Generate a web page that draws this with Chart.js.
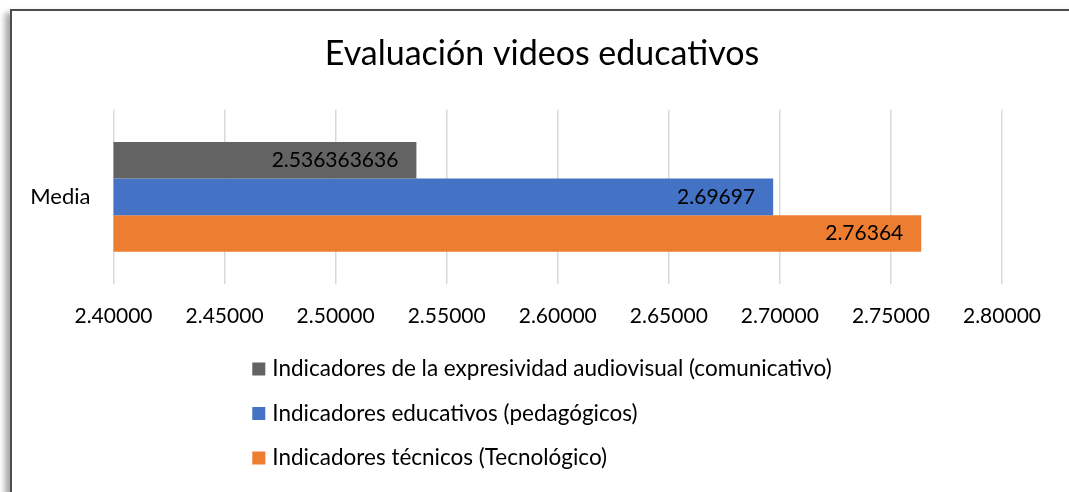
<!DOCTYPE html>
<html>
<head>
<meta charset="utf-8">
<title>Evaluación videos educativos</title>
<script src="https://cdn.jsdelivr.net/npm/chart.js@4"></script>
<style>
  html, body { margin: 0; padding: 0; background: #fff; width: 1069px; height: 492px; overflow: hidden; }
  #frame {
    position: absolute; left: 10px; top: 9px; width: 1070px; height: 500px;
    border: 2px solid #4d4d4d; background: #fff;
    box-shadow: -5px 4px 6px rgba(0, 0, 0, 0.35);
  }
  #wrap { position: absolute; left: 0; top: 0; width: 1060px; height: 482px; }
</style>
</head>
<body>
<div id="frame"><div id="wrap"><canvas id="chart"></canvas></div></div>
<script>
const CATEGORIES = ["Media"];
const SERIES_NAMES = [
  "Indicadores de la expresividad audiovisual (comunicativo)",
  "Indicadores educativos (pedagógicos)",
  "Indicadores técnicos (Tecnológico)",
];
const COMUNICATIVO = [2.536363636];
const PEDAGOGICO = [2.69697];
const TECNOLOGICO = [2.76364];
const SERIES_COLORS = ["#636363", "#4472C4", "#ED7D31"];
const X_MIN = 2.4;
const X_MAX = 2.8;
const X_STEP = 0.05;

const FONT = "Lato, 'Open Sans', sans-serif";

// value written inside the end of each bar
const valueLabels = {
  id: "valueLabels",
  afterDatasetsDraw(chart) {
    const { ctx } = chart;
    ctx.save();
    ctx.font = `21px ${FONT}`;
    ctx.fillStyle = "#000";
    ctx.textAlign = "right";
    ctx.textBaseline = "middle";
    chart.data.datasets.forEach((ds, i) => {
      chart.getDatasetMeta(i).data.forEach((bar, j) => {
        ctx.fillText(String(ds.data[j]), bar.x - 18, bar.y);
      });
    });
    ctx.restore();
  },
};

// legend as one entry per line, block centred under the chart
const stackedLegend = {
  id: "stackedLegend",
  afterDraw(chart) {
    const { ctx, chartArea } = chart;
    ctx.save();
    ctx.font = `22.5px ${FONT}`;
    const widths = chart.data.datasets.map((ds) => ctx.measureText(ds.label).width);
    const blockWidth = 20 + Math.max(...widths);
    const left = chart.width / 2 - blockWidth / 2;
    ctx.textAlign = "left";
    ctx.textBaseline = "middle";
    chart.data.datasets.forEach((ds, i) => {
      const y = chartArea.bottom + 85 + i * 44.5;
      ctx.fillStyle = ds.backgroundColor;
      ctx.fillRect(left, y - 6.5, 13, 13);
      ctx.fillStyle = "#000";
      ctx.fillText(ds.label, left + 20, y);
    });
    ctx.restore();
  },
};

function buildChart() {
  const values = [COMUNICATIVO, PEDAGOGICO, TECNOLOGICO];
  new Chart(document.getElementById("chart"), {
    type: "bar",
    data: {
      labels: CATEGORIES,
      datasets: SERIES_NAMES.map((name, i) => ({
        label: name,
        data: values[i],
        backgroundColor: SERIES_COLORS[i],
        borderWidth: 0,
        categoryPercentage: 0.63,
        barPercentage: 1.0,
      })),
    },
    options: {
      indexAxis: "y",
      responsive: true,
      maintainAspectRatio: false,
      animation: false,
      layout: { padding: { top: 0, right: 0, bottom: 159, left: 0 } },
      plugins: {
        legend: { display: false },
        tooltip: { enabled: false },
        title: {
          display: true,
          text: "Evaluación videos educativos",
          color: "#000",
          font: { family: FONT, size: 34, weight: "normal", lineHeight: 1.2 },
          padding: { top: 23, bottom: 35 },
        },
      },
      scales: {
        x: {
          min: X_MIN,
          max: X_MAX,
          afterFit: (scale) => { scale.height = 50; },
          ticks: {
            stepSize: X_STEP,
            padding: 20,
            color: "#000",
            font: { family: FONT, size: 21 },
            callback: (v) => Number(v).toFixed(5),
          },
          grid: { color: "#d9d9d9", lineWidth: 1.5, drawTicks: false },
          border: { display: false },
        },
        y: {
          afterFit: (scale) => { scale.width = 101.5; },
          ticks: { padding: 23, color: "#000", font: { family: FONT, size: 22 } },
          grid: { display: false, drawTicks: false },
          border: { display: false },
        },
        // empty right-hand box that keeps the plot clear of the right edge
        // without shifting the centred title
        right: {
          type: "linear",
          position: "right",
          afterFit: (scale) => { scale.width = 70; },
          ticks: { display: false },
          grid: { display: false, drawTicks: false },
          border: { display: false },
        },
      },
    },
    plugins: [valueLabels, stackedLegend],
  });
}

document.fonts.load(`20px Lato`).then(buildChart, buildChart);
</script>
</body>
</html>
